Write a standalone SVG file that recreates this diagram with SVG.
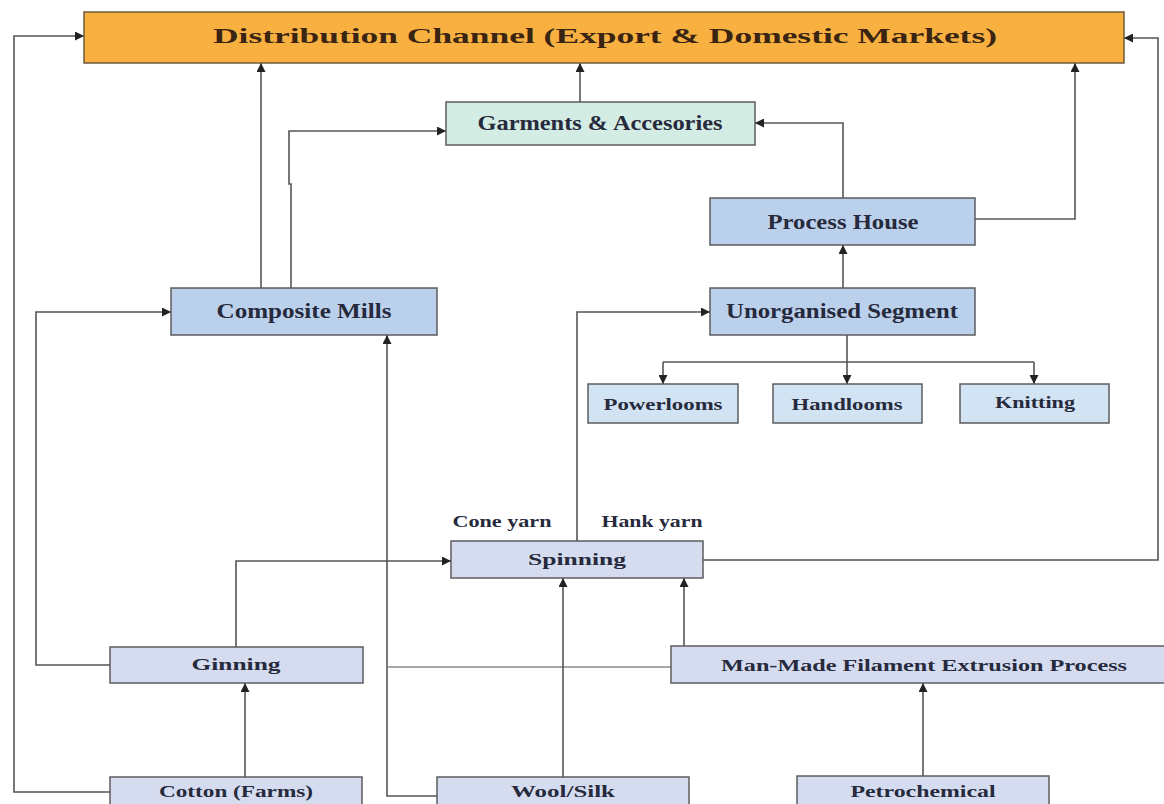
<svg xmlns="http://www.w3.org/2000/svg" width="1164" height="804" viewBox="0 0 1164 804">
<style>
.box{stroke:#5c5c5c;stroke-width:1.5}
.dist{fill:#F8B140;stroke:#6e5a3c}
.garm{fill:#D3ECE4}
.mid{fill:#BBD0EA}
.small{fill:#D2E3F3}
.low{fill:#D5DCF0}
text{font-family:"Liberation Serif","Times New Roman",serif;font-weight:bold;fill:#262a3c;text-anchor:middle}
.t-title{font-size:21px;fill:#3a2412}
.t-main{font-size:20px}
.t-sub{font-size:17px}
.t-low{font-size:16px}
.conn path{fill:none;stroke:#555;stroke-width:1.6}
.conn path.faint{stroke:#8a8a8a}
</style>
<defs>
<marker id="ah" viewBox="0 0 10 10" refX="10" refY="5" markerWidth="10" markerHeight="9" markerUnits="userSpaceOnUse" orient="auto">
<path d="M0,0 L10,5 L0,10 z" fill="#222"/>
</marker>
</defs>
<rect x="0" y="0" width="1164" height="804" fill="#ffffff"/>

<g class="conn" id="connectors">
<path d="M110,792 H14 V36 H84" marker-end="url(#ah)"/>
<path d="M110,665 H36 V312 H171" marker-end="url(#ah)"/>
<path d="M236,647 V561 H451" marker-end="url(#ah)"/>
<path d="M245,777 V683" marker-end="url(#ah)"/>
<path d="M437,796 H387 V335" marker-end="url(#ah)"/>
<path class="faint" d="M671,667 H387"/>
<path d="M563,777 V578" marker-end="url(#ah)"/>
<path d="M684,646 V578" marker-end="url(#ah)"/>
<path d="M923,776 V683" marker-end="url(#ah)"/>
<path d="M577,541 V312 H710" marker-end="url(#ah)"/>
<path d="M703,560 H1158 V38 H1124" marker-end="url(#ah)"/>
<path d="M843,288 V245" marker-end="url(#ah)"/>
<path d="M843,198 V123 H755" marker-end="url(#ah)"/>
<path d="M975,219 H1075 V63" marker-end="url(#ah)"/>
<path d="M580,102 V63" marker-end="url(#ah)"/>
<path d="M261,288 V63" marker-end="url(#ah)"/>
<path d="M291,288 V184 H289 V131 H446" marker-end="url(#ah)"/>
<path d="M847,335 V362"/>
<path d="M663,362 H1034"/>
<path d="M663,362 V384" marker-end="url(#ah)"/>
<path d="M847,362 V384" marker-end="url(#ah)"/>
<path d="M1034,362 V384" marker-end="url(#ah)"/>
</g>

<g id="distribution">
<rect class="box dist" x="84" y="12" width="1040" height="51"/>
<text class="t-title" x="605" y="43" textLength="784" lengthAdjust="spacingAndGlyphs">Distribution Channel (Export &amp; Domestic Markets)</text>
</g>
<g id="garments">
<rect class="box garm" x="446" y="102" width="309" height="43"/>
<text class="t-main" x="600" y="130" textLength="245" lengthAdjust="spacingAndGlyphs">Garments &amp; Accesories</text>
</g>
<g id="process-house">
<rect class="box mid" x="710" y="198" width="265" height="47"/>
<text class="t-main" x="843" y="229" textLength="151" lengthAdjust="spacingAndGlyphs">Process House</text>
</g>
<g id="composite-mills">
<rect class="box mid" x="171" y="288" width="266" height="47"/>
<text class="t-main" x="304" y="318" textLength="175" lengthAdjust="spacingAndGlyphs">Composite Mills</text>
</g>
<g id="unorganised">
<rect class="box mid" x="710" y="288" width="265" height="47"/>
<text class="t-main" x="842" y="318" textLength="232" lengthAdjust="spacingAndGlyphs">Unorganised Segment</text>
</g>
<g id="powerlooms">
<rect class="box small" x="588" y="384" width="150" height="39"/>
<text class="t-sub" x="663" y="410" textLength="119" lengthAdjust="spacingAndGlyphs">Powerlooms</text>
</g>
<g id="handlooms">
<rect class="box small" x="773" y="384" width="149" height="39"/>
<text class="t-sub" x="847" y="410" textLength="111" lengthAdjust="spacingAndGlyphs">Handlooms</text>
</g>
<g id="knitting">
<rect class="box small" x="960" y="384" width="149" height="39"/>
<text class="t-sub" x="1035" y="408" textLength="80" lengthAdjust="spacingAndGlyphs">Knitting</text>
</g>
<g id="yarn-labels">
<text class="t-low" x="502" y="527" textLength="99" lengthAdjust="spacingAndGlyphs">Cone yarn</text>
<text class="t-low" x="652" y="527" textLength="101" lengthAdjust="spacingAndGlyphs">Hank yarn</text>
</g>
<g id="spinning">
<rect class="box low" x="451" y="541" width="252" height="37"/>
<text class="t-sub" x="577" y="565" textLength="98" lengthAdjust="spacingAndGlyphs">Spinning</text>
</g>
<g id="ginning">
<rect class="box low" x="110" y="647" width="253" height="36"/>
<text class="t-sub" x="236" y="670" textLength="89" lengthAdjust="spacingAndGlyphs">Ginning</text>
</g>
<g id="man-made">
<rect class="box low" x="671" y="646" width="510" height="37"/>
<text class="t-sub" x="924" y="671" textLength="406" lengthAdjust="spacingAndGlyphs">Man-Made Filament Extrusion Process</text>
</g>
<g id="cotton">
<rect class="box low" x="110" y="777" width="252" height="40"/>
<text class="t-low" x="236" y="797" textLength="154" lengthAdjust="spacingAndGlyphs">Cotton (Farms)</text>
</g>
<g id="wool-silk">
<rect class="box low" x="437" y="777" width="252" height="40"/>
<text class="t-low" x="563" y="797" textLength="104" lengthAdjust="spacingAndGlyphs">Wool/Silk</text>
</g>
<g id="petrochemical">
<rect class="box low" x="797" y="776" width="252" height="41"/>
<text class="t-low" x="923" y="797" textLength="145" lengthAdjust="spacingAndGlyphs">Petrochemical</text>
</g>
</svg>
